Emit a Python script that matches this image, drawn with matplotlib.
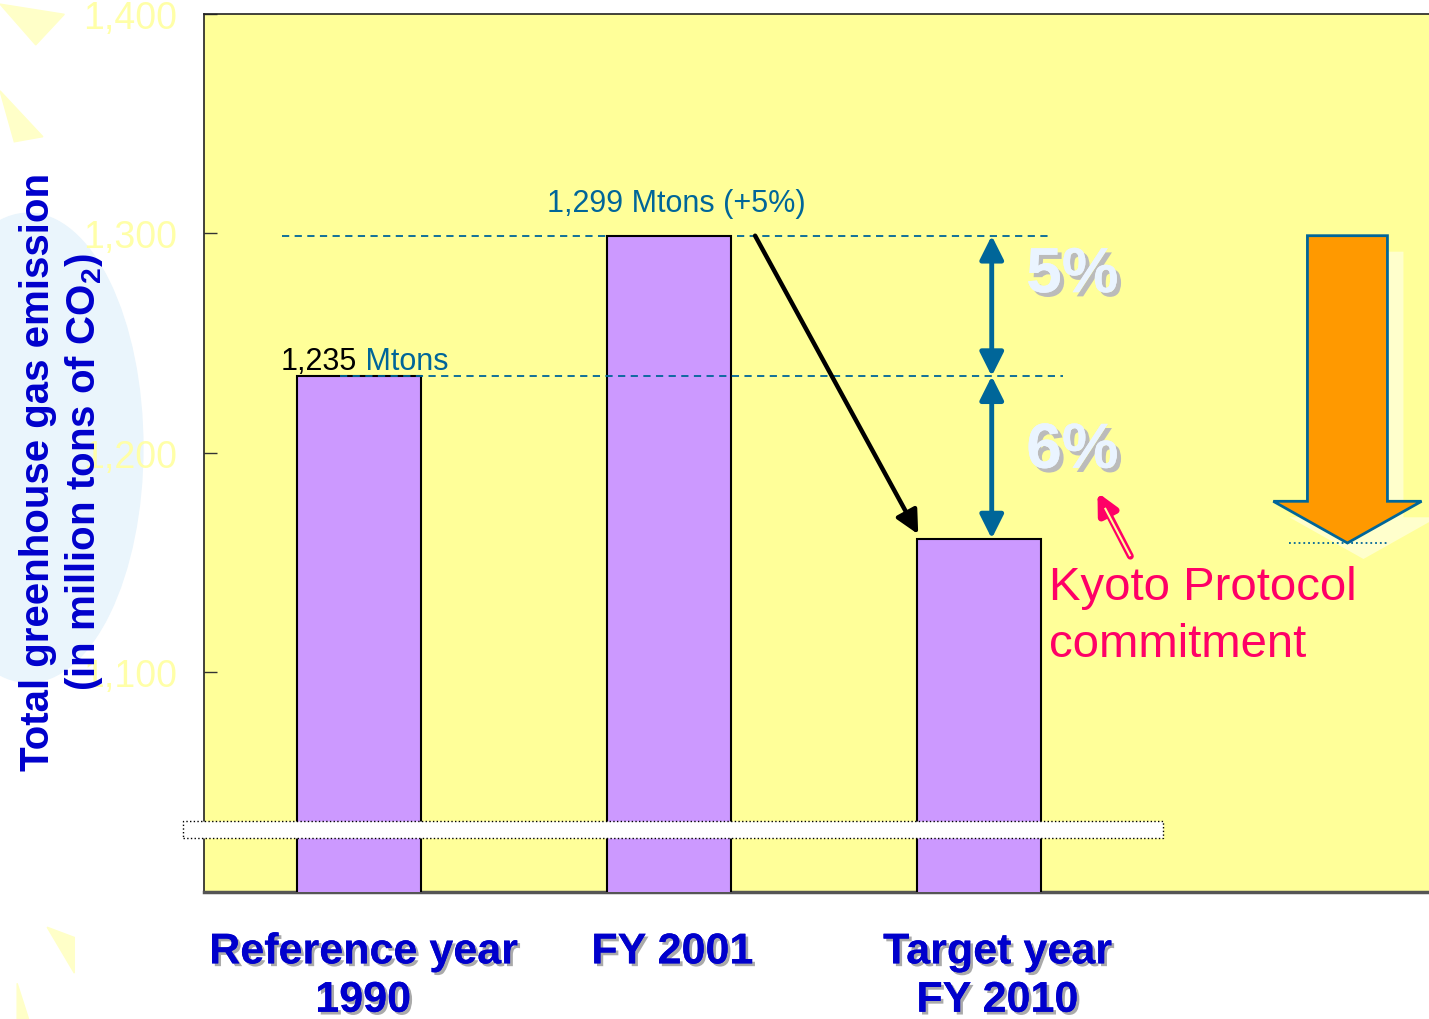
import numpy as np
import matplotlib
matplotlib.use("Agg")
import matplotlib.pyplot as plt
import matplotlib.patheffects as pe
from matplotlib.patches import Polygon, Rectangle, Ellipse

plt.rcParams['font.family'] = ['Liberation Sans', 'DejaVu Sans']
plt.rcParams['mathtext.fontset'] = 'custom'
plt.rcParams['mathtext.rm'] = 'Liberation Sans'
plt.rcParams['mathtext.bf'] = 'Liberation Sans:bold'

# data
categories = ['Reference year\n1990', 'FY 2001', 'Target year\nFY 2010']
emissions = [1235, 1299, 1161]
yticks = [1100, 1200, 1300, 1400]
ytick_labels = ['1,100', '1,200', '1,300', '1,400']
pct_labels = ['5%', '6%']

BLUE = '#0000CC'
TEAL = '#006699'
PINK = '#FF0066'

fig = plt.figure(figsize=(14.29, 10.20), dpi=100)

# faint background decorations (slide template)
fig.patches.append(Ellipse((0.02, 0.56), 0.16, 0.46, transform=fig.transFigure,
                           color='#EAF5FC', zorder=-5))
for tri in [[(0.0, 0.995), (0.045, 0.985), (0.025, 0.955)],
            [(0.0, 0.91), (0.03, 0.865), (0.01, 0.86)],
            [(0.033, 0.09), (0.052, 0.08), (0.052, 0.045)],
            [(0.012, 0.035), (0.02, 0.0), (0.012, 0.0)]]:
    fig.patches.append(Polygon(tri, closed=True, transform=fig.transFigure,
                               color='#FFFFC8', zorder=-5))

ax = fig.add_axes([204 / 1429, 1 - 893 / 1020, 1225 / 1429, 878 / 1020])
ax.set_facecolor('#FFFF99')

x = np.arange(len(emissions))
ax.bar(x, emissions, width=0.4, color='#CC99FF', edgecolor='black', linewidth=1.5, zorder=3)

ax.set_xlim(-0.5, 3.45)
ax.set_ylim(1000, 1400)
ax.set_yticks(yticks)
ax.set_yticklabels(ytick_labels)
ax.tick_params(axis='y', direction='in', length=9, width=1, colors='#333333',
               labelcolor='#FFFFA8', labelsize=27, pad=19)
ax.set_xticks([])
for s in ['left', 'top']:
    ax.spines[s].set_color('#222222')
    ax.spines[s].set_linewidth(1.2)
ax.spines['bottom'].set_color('#555555')
ax.spines['bottom'].set_linewidth(2.5)
ax.spines['right'].set_visible(False)

# dashed reference lines
ax.plot([-0.25, 2.22], [emissions[1]] * 2, ls=(0, (4, 3)), color=TEAL, lw=1.3, zorder=2)
ax.plot([-0.06, 2.27], [emissions[0]] * 2, ls=(0, (4, 3)), color=TEAL, lw=1.3, zorder=4)

# value annotations
t = ax.text(-0.252, emissions[0] + 7, '1,235', fontsize=22, color='black',
            ha='left', va='center', zorder=5)
ax.annotate(' Mtons', xycoords=t, xy=(1, 0.5), va='center', ha='left',
            fontsize=22, color=TEAL, zorder=5)
ax.text(x[1] + 0.023, emissions[1] + 15, '1,299 Mtons (+5%)', fontsize=22, color=TEAL,
        ha='center', va='center', zorder=5)

# black arrow from FY2001 to target
ax.annotate('', xy=(x[2] - 0.197, emissions[2] + 2), xytext=(x[1] + 0.277, emissions[1]),
            arrowprops=dict(arrowstyle='-|>', color='black', lw=3.2,
                            mutation_scale=35, shrinkA=0, shrinkB=0), zorder=6)

# double arrows for 5% and 6%
xa = x[2] + 0.04
for y0, y1 in [(emissions[1], emissions[0]), (emissions[0], emissions[2])]:
    ax.annotate('', xy=(xa, y1), xytext=(xa, y0),
                arrowprops=dict(arrowstyle='<|-|>', color=TEAL, lw=3.5,
                                mutation_scale=36, shrinkA=0, shrinkB=0), zorder=6)

shadow = [pe.withSimplePatchShadow(offset=(3, -3), shadow_rgbFace='#BBBBBB', alpha=1.0),
          pe.Normal()]
ax.text(2.3, (emissions[1] + emissions[0]) / 2 + 14, pct_labels[0], fontsize=46, fontweight='bold',
        color='#EAF4FF', ha='center', va='center', path_effects=shadow, zorder=6)
ax.text(2.3, (emissions[0] + emissions[2]) / 2 + 3, pct_labels[1], fontsize=46, fontweight='bold',
        color='#EAF4FF', ha='center', va='center', path_effects=shadow, zorder=6)

# Kyoto protocol note
ax.text(2.225, emissions[2] - 35, 'Kyoto Protocol\ncommitment', fontsize=34, color=PINK,
        ha='left', va='center', linespacing=1.38, zorder=6)
ax.annotate('', xy=(2.381, emissions[2] + 21), xytext=(2.487, emissions[2] - 8),
            arrowprops=dict(arrowstyle='-|>', color=PINK, lw=5,
                            mutation_scale=30, shrinkA=0, shrinkB=0), zorder=6)
ax.plot([2.487, 2.405], [emissions[2] - 8, emissions[2] + 14], color='#FFFF99', lw=1.5,
        solid_capstyle='butt', zorder=7)

# big orange down arrow (with pale shadow)
cx, bw, hw = 3.187, 0.129, 0.239
top, neck, tip = emissions[1], emissions[2] + 17, emissions[2] - 2
arrow_pts = [(cx - bw, top), (cx + bw, top), (cx + bw, neck), (cx + hw, neck),
             (cx, tip), (cx - hw, neck), (cx - bw, neck)]
dx, dy = 16 / 310, -16 / 2.195
ax.add_patch(Polygon([(px + dx, py + dy) for px, py in arrow_pts], closed=True,
                     facecolor='#FFFFCC', edgecolor='none', zorder=4, clip_on=True))
ax.add_patch(Polygon(arrow_pts, closed=True, facecolor='#FF9900', edgecolor=TEAL,
                     lw=2, zorder=5))
ax.plot([cx - 0.19, cx + 0.13], [tip, tip], ls=':', color=TEAL, lw=1.3, zorder=4)

# axis break band
ax.add_patch(Rectangle((-0.017, 0.0615), 0.8, 0.0195, transform=ax.transAxes,
                       facecolor='white', edgecolor='black', lw=1, ls=':',
                       clip_on=False, zorder=8))

# category labels
label_dx = [0.013, 0.01, 0.058]
lab_shadow = [pe.withSimplePatchShadow(offset=(2, -2), shadow_rgbFace='#AAAAAA', alpha=1.0),
              pe.Normal()]
for xi, lab, dxl in zip(x, categories, label_dx):
    ax.text(xi + dxl, -0.046, lab, transform=ax.get_xaxis_transform(), fontsize=31,
            fontweight='bold', color=BLUE, ha='center', va='top', linespacing=1.27,
            path_effects=lab_shadow)

fig.text(62 / 1429, 1 - 472 / 1020,
         'Total greenhouse gas emission\n(in million tons of CO$_\\mathbf{2}$)',
         rotation=90, fontsize=29, fontweight='bold', color=BLUE,
         ha='center', va='center', multialignment='center', linespacing=1.18)

fig.savefig('out.png', dpi=100, facecolor='white')
